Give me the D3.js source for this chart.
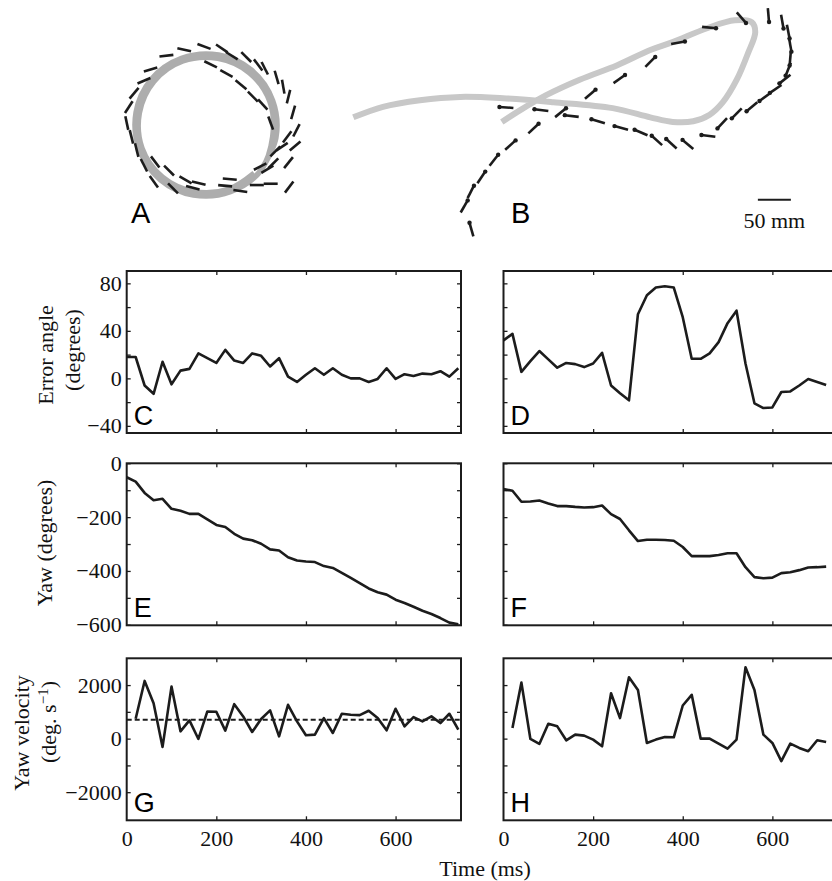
<!DOCTYPE html>
<html><head><meta charset="utf-8">
<script src="https://cdn.jsdelivr.net/npm/d3@7/dist/d3.min.js"></script>
<style>body{margin:0;background:#fff}svg{display:block}</style>
</head><body>
<svg id="chart" width="832" height="881"></svg>
<script>
// ---------------- DATA ----------------
// time samples (ms)
const timeC = [0,20,40,60,80,100,120,140,160,180,200,220,240,260,280,300,320,340,360,380,400,420,440,460,480,500,520,540,560,580,600,620,640,660,680,700,720,740];
const timeD = [0,20,40,60,80,100,120,140,160,180,200,220,240,260,280,300,320,340,360,380,400,420,440,460,480,500,520,540,560,580,600,620,640,660,680,700,720];
const timeE = timeC;
const timeF = timeD;
const timeG = [20,40,60,80,100,120,140,160,180,200,220,240,260,280,300,320,340,360,380,400,420,440,460,480,500,520,540,560,580,600,620,640,660,680,700,720,740];
const timeH = [20,40,60,80,100,120,140,160,180,200,220,240,260,280,300,320,340,360,380,400,420,440,460,480,500,520,540,560,580,600,620,640,660,680,700,720];

// error angle (degrees)
const errorC = [18,18,-6,-13,14,-5,6.5,8,21,17,13,24,15,13,21,19,10,17,1.5,-3,3,8.5,3,8.5,3,0,0,-3,-0.5,8.5,-0.5,3.5,2,4,3.5,6,1.5,8.5];
const errorD = [32,37.5,5.5,14.5,23,16,9,13,12,9.5,12.5,21.5,-6,-12.5,-18.5,54,70,76.5,77.5,76.5,51.5,16.5,16.5,21,30.5,46.5,57,12.5,-21,-25,-24.5,-11.5,-11,-6,-0.5,-3,-5.5];
// yaw (degrees)
const yawE = [-52,-68,-110,-137,-132,-169,-176,-188,-188,-208,-229,-237,-262,-280,-286,-299,-320,-324,-349,-361,-365,-367,-382,-389,-407,-426,-445,-465,-479,-488,-507,-519,-533,-548,-560,-575,-592,-598];
const yawF = [-96,-102,-143,-142,-138,-149,-159,-159,-162,-164,-163,-157,-189,-207,-249,-289,-284,-284,-285,-288,-311,-345,-345,-345,-341,-334,-334,-386,-423,-427,-425,-408,-405,-397,-387,-386,-384];
// yaw velocity (deg/s)
const velG = [743,2155,1325,-310,1944,272,681,-12,1015,1003,297,1288,830,248,731,1053,87,1263,644,124,149,768,211,929,892,879,1040,768,310,1115,458,805,644,830,582,929,334];
const velH = [396,2093,-12,-198,557,458,-62,149,111,-37,-285,1697,768,2291,1820,-161,-37,62,50,1238,1635,0,0,-186,-372,-37,2663,1820,149,-161,-842,-186,-347,-471,-62,-124];
const meanVelG = 705;

// tick values
const timeTicks = [0,200,400,600];
const errTicks = [-40,-20,0,20,40,60,80], errLabels = [-40,0,40,80];
const yawTicks = [-600,-500,-400,-300,-200,-100,0], yawLabels = [-600,-400,-200,0];
const velTicks = [-2000,-1000,0,1000,2000], velLabels = [-2000,0,2000];

// Panel A: trajectory (mm) and body heading segments (centre mm, heading deg)
const ringAx = [83,106,101,69,19,-37,-83,-106,-101,-69,-19,37,83,101,97,66,18,-35,-79,-101,-97,-66,-18,35,73];
const ringAy = [-69,-19,37,83,106,101,69,19,-37,-83,-106,-101,-69,-18,35,79,101,97,66,18,-35,-79,-101,-97,-73];
const segAx = [-120,-117,-109,-94,-84,-60,-33,-3,24,39,61,79,89,107,125,132,137,135,123,125,126,115,102,93,98,77,52,29,-11,-31,-50,-56,-79,-77,-94,-105,-113,7,31,53,71,86,98,105,82,36,117,-20];
const segAy = [3,27,48,67,84,105,114,119,116,105,103,91,86,72,43,19,-8,-32,-18,-57,-94,-33,-58,-67,-89,-91,-100,-92,-88,-83,-96,-69,-86,-56,-61,-38,-18,92,78,61,43,31,3,-40,-63,-82,58,-95];
const segAh = [-78,57,50,23,17,7,-12,-20,-34,-32,-45,-53,-63,-74,76,74,63,40,53,51,53,34,45,31,0,0,-8,-5,-13,-30,-45,-45,-54,-53,-63,-76,-76,-26,-29,-39,-45,-48,-70,45,27,-5,-80,-15];

// Panel B: trajectory (mm) and heading segments (centre mm, heading deg)
const pathBx = [5,50,106,167,232,308,398,455,489,520,545,565,586,603,614,609,583,541,489,455,405,348,298,258,230];
const pathBy = [201,217,227,232,230,224,215,201,194,195,205,224,258,298,330,345,348,336,315,303,280,258,235,212,194];
const segBx = [184,173,183,199,218,243,278,319,364,408,455,497,544,593,634,655,664,667,667,664,659,645,629,609,586,564,543,512,487,465,441,411,376,336,290,237];
const segBy = [31,66,88,110,136,159,184,208,236,259,285,314,337,352,356,346,331,311,290,274,259,244,232,217,207,192,173,160,161,166,178,185,195,203,212,216];
const segBh = [106,60,63,56,52,42,43,39,41,35,45,10,-6,-49,-85,-80,-79,-80,-95,-112,-142,-146,-144,-140,-135,-133,173,140,138,138,157,165,163,173,173,176];
const scaleBarMM = 50;

// ---------------- DRAW ----------------
const svg = d3.select('#chart');
const serif = "'Liberation Serif','Times New Roman',serif";
const sans = "'Liberation Sans',Arial,sans-serif";
const ink = '#1c1c1c';
const fs = 22;

// ---- panels C..H ----
const colX = [126.7, 503.5], pw = 334.3;
const rowY = [271, 463.3, 658.3], ph = 162;
const timeDomain = [0, 746];

const panels = [
  {id:'C', col:0,row:0, t:timeC, v:errorC, yd:[-46,90.4], ticks:errTicks, labels:errLabels},
  {id:'D', col:1,row:0, t:timeD, v:errorD, yd:[-46,90.4], ticks:errTicks, labels:[]},
  {id:'E', col:0,row:1, t:timeE, v:yawE, yd:[-602,0], ticks:yawTicks, labels:yawLabels},
  {id:'F', col:1,row:1, t:timeF, v:yawF, yd:[-602,0], ticks:yawTicks, labels:[]},
  {id:'G', col:0,row:2, t:timeG, v:velG, yd:[-3050,3000], ticks:velTicks, labels:velLabels, mean:meanVelG},
  {id:'H', col:1,row:2, t:timeH, v:velH, yd:[-3050,3000], ticks:velTicks, labels:[]}
];

panels.forEach(p => {
  const x0 = colX[p.col], y0 = rowY[p.row];
  const x = d3.scaleLinear().domain(timeDomain).range([x0, x0 + pw]);
  const y = d3.scaleLinear().domain(p.yd).range([y0 + ph, y0]);
  const g = svg.append('g');

  if (p.mean !== undefined) {
    g.append('line')
      .attr('x1', x(timeDomain[0])).attr('x2', x(timeDomain[1]))
      .attr('y1', y(p.mean)).attr('y2', y(p.mean))
      .attr('stroke', ink).attr('stroke-width', 2).attr('stroke-dasharray', '5,3');
  }
  g.append('path')
    .datum(d3.zip(p.t, p.v))
    .attr('fill', 'none').attr('stroke', ink).attr('stroke-width', 2.6)
    .attr('stroke-linejoin', 'round')
    .attr('d', d3.line().x(d => x(d[0])).y(d => y(d[1])));

  const styleAxis = sel => {
    sel.attr('font-family', serif).attr('font-size', fs);
    sel.select('.domain').remove();
    sel.selectAll('.tick line').attr('stroke', ink).attr('stroke-width', 1.3);
    sel.selectAll('text').attr('font-family', serif).style('font-family', serif)
      .attr('font-size', fs).attr('fill', '#111');
  };
  const yfmt = d => p.labels.includes(d) ? d3.format('d')(d) : '';
  g.append('g').attr('transform', `translate(${x0},0)`)
    .call(d3.axisLeft(y).tickValues(p.ticks).tickSize(-4).tickPadding(5).tickFormat(yfmt)).call(styleAxis);
  g.append('g').attr('transform', `translate(${x0 + pw},0)`)
    .call(d3.axisRight(y).tickValues(p.ticks).tickSize(-4).tickFormat('')).call(styleAxis);
  g.append('g').attr('transform', `translate(0,${y0})`)
    .call(d3.axisTop(x).tickValues(timeTicks.slice(1)).tickSize(-4).tickFormat('')).call(styleAxis);
  const xb = g.append('g').attr('transform', `translate(0,${y0 + ph})`);
  if (p.row === 2) {
    xb.call(d3.axisBottom(x).tickValues(timeTicks).tickSize(-4).tickPadding(10).tickFormat(d3.format('d'))).call(styleAxis);
    xb.selectAll('.tick').filter(d => d === 0).select('line').remove();
  } else {
    xb.call(d3.axisBottom(x).tickValues(timeTicks.slice(1)).tickSize(-4).tickFormat('')).call(styleAxis);
  }

  g.append('rect').attr('x', x0).attr('y', y0).attr('width', pw).attr('height', ph)
    .attr('fill', 'none').attr('stroke', ink).attr('stroke-width', 2);

  g.append('text').attr('x', x0 + 7).attr('y', y0 + ph - 8)
    .attr('font-family', sans).attr('font-size', 27).attr('fill', '#000').text(p.id);
});

// y-axis titles
const ytitle = (tx, ty, txt) => svg.append('text')
  .attr('transform', `translate(${tx},${ty}) rotate(-90)`)
  .attr('text-anchor', 'middle').attr('font-family', serif).attr('font-size', fs).attr('fill', '#111').text(txt);
ytitle(53, 355, 'Error angle');
ytitle(80, 350, '(degrees)');
ytitle(52, 543, 'Yaw (degrees)');
ytitle(29, 733, 'Yaw velocity');
const vt = ytitle(56, 722, '(deg. s');
vt.append('tspan').attr('font-size', 15).attr('dy', -8).text('−1');
vt.append('tspan').attr('dy', 8).text(')');

svg.append('text').attr('x', 485).attr('y', 876).attr('text-anchor', 'middle')
  .attr('font-family', serif).attr('font-size', fs).attr('fill', '#111').text('Time (ms)');

// ---- trajectory panels A and B ----
const pxPerMM = 0.66;
const segLen = 14;

function drawSegs(g, sx, sy, X, Y, H, dots) {
  const data = d3.zip(X, Y, H);
  const geo = d => {
    const cx = sx(d[0]), cy = sy(d[1]), a = d[2] * Math.PI / 180;
    const dx = Math.cos(a) * segLen / 2, dy = -Math.sin(a) * segLen / 2;
    return {x1: cx - dx, y1: cy - dy, x2: cx + dx, y2: cy + dy};
  };
  g.selectAll('line.seg').data(data).enter().append('line')
    .attr('x1', d => geo(d).x1).attr('y1', d => geo(d).y1)
    .attr('x2', d => geo(d).x2).attr('y2', d => geo(d).y2)
    .attr('stroke', ink).attr('stroke-width', 2.6);
  if (dots) {
    g.selectAll('circle.hd').data(data).enter().append('circle')
      .attr('cx', d => geo(d).x2).attr('cy', d => geo(d).y2).attr('r', 2.2).attr('fill', ink);
  }
}

// Panel A
{
  const cx = 206, cy = 125, half = 150 * pxPerMM;
  const sx = d3.scaleLinear().domain([-150, 150]).range([cx - half, cx + half]);
  const sy = d3.scaleLinear().domain([-150, 150]).range([cy + half, cy - half]);
  const g = svg.append('g');
  g.append('path').datum(d3.zip(ringAx, ringAy))
    .attr('fill', 'none').attr('stroke', '#a4a4a4').attr('stroke-width', 5.5).attr('stroke-opacity', 0.9)
    .attr('d', d3.line().x(d => sx(d[0])).y(d => sy(d[1])).curve(d3.curveCatmullRom));
  drawSegs(g, sx, sy, segAx, segAy, segAh, false);
  g.append('text').attr('x', 131).attr('y', 223).attr('font-family', sans).attr('font-size', 29).text('A');
}

// Panel B
{
  const ox = 350, oy = 250;
  const sx = d3.scaleLinear().domain([0, 700]).range([ox, ox + 700 * pxPerMM]);
  const sy = d3.scaleLinear().domain([0, 380]).range([oy, oy - 380 * pxPerMM]);
  const g = svg.append('g');
  g.append('path').datum(d3.zip(pathBx, pathBy))
    .attr('fill', 'none').attr('stroke', '#c8c8c8').attr('stroke-width', 6)
    .attr('d', d3.line().x(d => sx(d[0])).y(d => sy(d[1])).curve(d3.curveCatmullRom));
  drawSegs(g, sx, sy, segBx, segBy, segBh, true);
  g.append('text').attr('x', 511).attr('y', 223).attr('font-family', sans).attr('font-size', 29).text('B');
  // scale bar
  const barX = 618, barY = 76;
  g.append('line').attr('x1', sx(barX)).attr('x2', sx(barX + scaleBarMM))
    .attr('y1', sy(barY)).attr('y2', sy(barY)).attr('stroke', ink).attr('stroke-width', 2);
  g.append('text').attr('x', (sx(barX) + sx(barX + scaleBarMM)) / 2).attr('y', 228)
    .attr('text-anchor', 'middle').attr('font-family', serif).attr('font-size', fs).attr('fill', '#111').text(scaleBarMM + ' mm');
}
</script>
</body></html>
